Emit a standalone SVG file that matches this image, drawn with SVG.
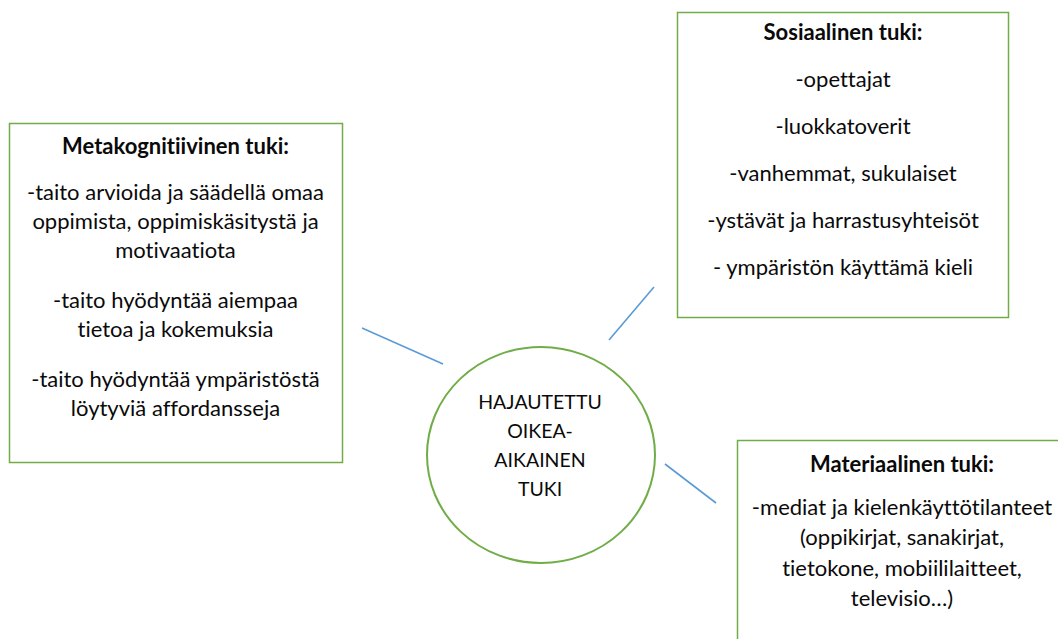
<svg xmlns="http://www.w3.org/2000/svg" width="1058" height="639" viewBox="0 0 1058 639">
  <style>
    .box { fill: #ffffff; stroke: #70ad47; stroke-width: 1.5; }
    .hub { fill: #ffffff; stroke: #70ad47; stroke-width: 2; }
    .link { stroke: #5b9bd5; stroke-width: 1.6; fill: none; }
    text { font-family: "Lato", "Open Sans", "Liberation Sans", sans-serif; font-size: 22px; fill: #0a0a0a; text-anchor: middle; font-variant-ligatures: none; font-feature-settings: "liga" 0, "dlig" 0; }
    .title { font-weight: bold; }
    .hubtext { font-size: 19.5px; }
  </style>
  <rect width="1058" height="639" fill="#ffffff"/>

  <g id="connectors">
    <line class="link" x1="362" y1="328" x2="443" y2="364"/>
    <line class="link" x1="609" y1="340" x2="654" y2="287"/>
    <line class="link" x1="665" y1="464" x2="716" y2="503"/>
  </g>

  <g id="node-metakognitiivinen">
    <rect class="box" x="9.5" y="123.5" width="333" height="339"/>
    <text class="title" x="175.5" y="154">Metakognitiivinen tuki:</text>
    <text x="175.5" y="200">-taito arvioida ja säädellä omaa</text>
    <text x="175.5" y="229">oppimista, oppimiskäsitystä ja</text>
    <text x="175.5" y="258">motivaatiota</text>
    <text x="175.5" y="308">-taito hyödyntää aiempaa</text>
    <text x="175.5" y="337">tietoa ja kokemuksia</text>
    <text x="175.5" y="387">-taito hyödyntää ympäristöstä</text>
    <text x="175.5" y="416">löytyviä affordansseja</text>
  </g>

  <g id="node-sosiaalinen">
    <rect class="box" x="677.5" y="12.5" width="331" height="305"/>
    <text class="title" x="843" y="40">Sosiaalinen tuki:</text>
    <text x="843" y="87">-opettajat</text>
    <text x="843" y="134">-luokkatoverit</text>
    <text x="843" y="181">-vanhemmat, sukulaiset</text>
    <text x="843" y="228">-ystävät ja harrastusyhteisöt</text>
    <text x="843" y="275">- ympäristön käyttämä kieli</text>
  </g>

  <g id="node-hub">
    <ellipse class="hub" cx="541" cy="455" rx="114" ry="108"/>
    <text class="hubtext" x="540" y="409">HAJAUTETTU</text>
    <text class="hubtext" x="540" y="438">OIKEA-</text>
    <text class="hubtext" x="540" y="467">AIKAINEN</text>
    <text class="hubtext" x="540" y="496">TUKI</text>
  </g>

  <g id="node-materiaalinen">
    <rect class="box" x="737.5" y="440.5" width="330" height="220"/>
    <text class="title" x="902" y="472">Materiaalinen tuki:</text>
    <text x="902" y="515">-mediat ja kielenkäyttötilanteet</text>
    <text x="902" y="545">(oppikirjat, sanakirjat,</text>
    <text x="902" y="576">tietokone, mobiililaitteet,</text>
    <text x="902" y="606">televisio…)</text>
  </g>
</svg>
